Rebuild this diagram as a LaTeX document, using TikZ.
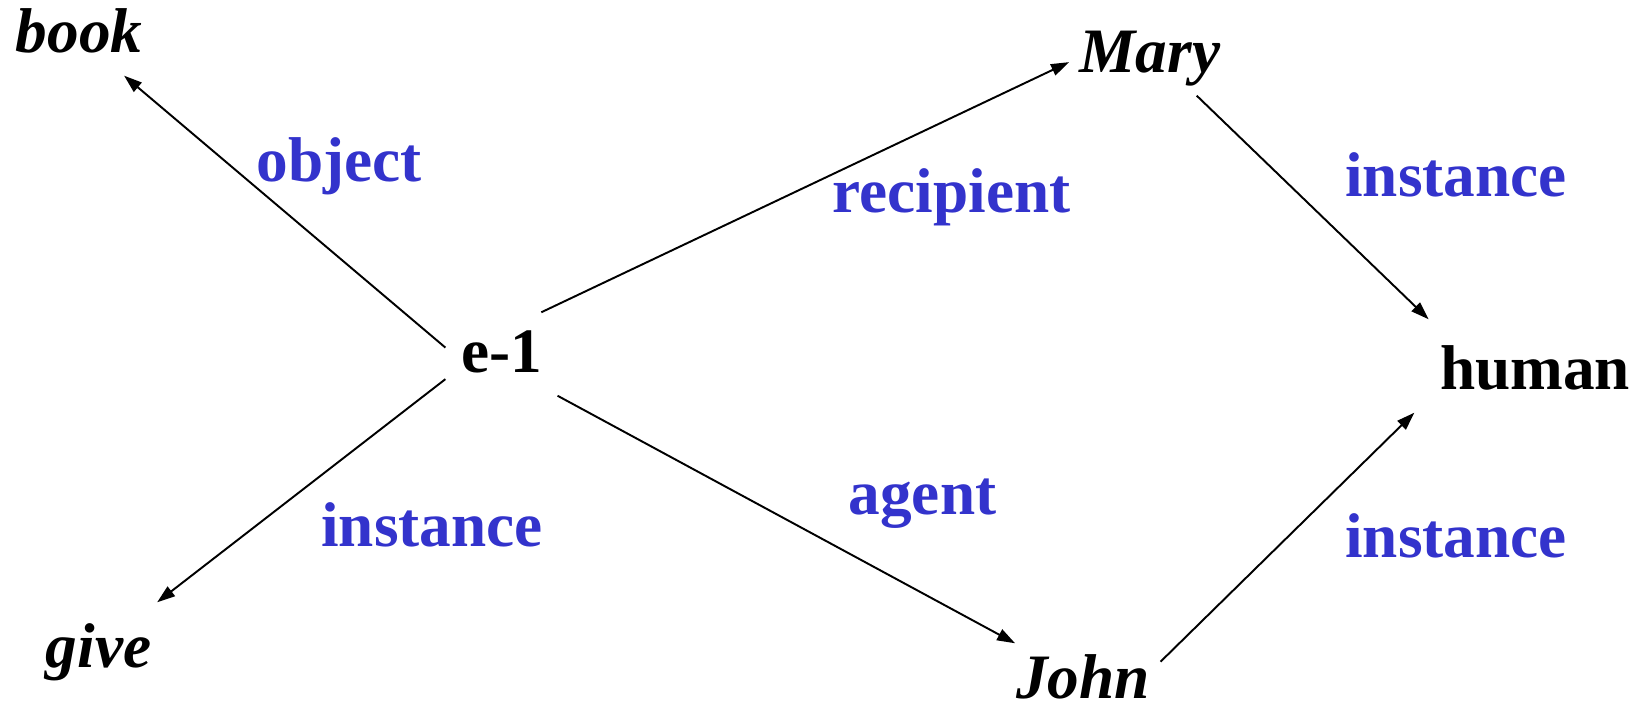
\documentclass[tikz,border=0pt]{standalone}
\usepackage{fontspec}
\setmainfont{Liberation Serif}
\usetikzlibrary{arrows.meta}
\definecolor{roleblue}{RGB}{51,51,204}

\begin{document}
\begin{tikzpicture} [word/.style={font=\fontsize{18}{21}\selectfont\bfseries\itshape, text height=0.45cm, text depth=0.12cm, inner sep=0.1cm, anchor=base}, concept/.style={word, font=\fontsize{18}{21}\selectfont\bfseries}, role/.style={font=\fontsize{18}{21}\selectfont\bfseries, text=roleblue, anchor=base}, link/.style={-{Triangle[length=0.18cm,width=0.12cm]}, line width=0.55pt}]
  \useasboundingbox (0,0) rectangle (16.42,7.08);
  %% Event and its fillers
  \node [concept, inner sep=0.15cm] (e1) at (5.015,3.35) {e-1};
  \node [word] (book) at (0.79,6.55) {book};
  \node [word, inner sep=0.2cm] (give) at (0.985,0.40) {give};
  \node [word] (mary) at (11.50,6.35) {Mary};
  \node [word] (john) at (10.83,0.09) {John};
  \node [concept, inner sep=0.25cm] (human) at (15.35,3.18) {human};
  %% Role labels
  \node [role] (object) at (3.395,5.26) {object};
  \node [role] (recipient) at (9.515,4.95) {recipient};
  \node [role] (instmary) at (14.56,5.11) {instance};
  \node [role] (instgive) at (4.32,1.61) {instance};
  \node [role] (agent) at (9.225,1.93) {agent};
  \node [role] (instjohn) at (14.56,1.50) {instance};
  % Draw edges
  \draw [link] (e1.171) -- (book.319);
  \draw [link] (e1.48) -- (mary.184);
  \draw [link] (e1.202) -- (give.40);
  \draw [link] (e1.325) -- (john.150);
  \draw [link] (mary.320) -- (human.153);
  \draw [link] (john.15) -- (human.198);
\end{tikzpicture}
\end{document}
